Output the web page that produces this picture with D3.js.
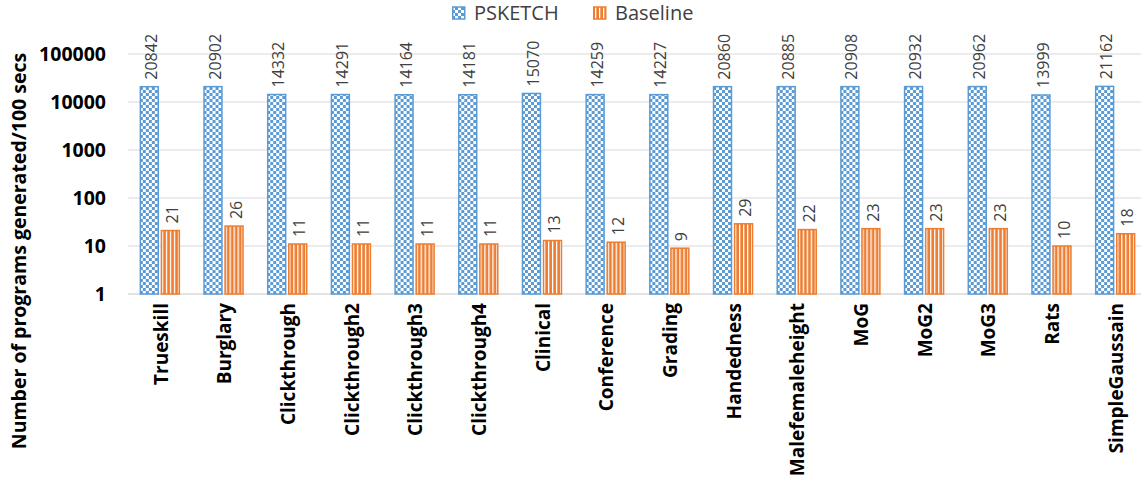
<!DOCTYPE html>
<html>
<head>
<meta charset="utf-8">
<script src="https://cdn.jsdelivr.net/npm/d3@7"></script>
<style>
  body { margin: 0; background: #fff; }
  svg { font-family: "Open Sans", sans-serif; }
</style>
</head>
<body>
<div id="vis"></div>
<script>
// Benchmarks and throughput values
var categories = ['Trueskill', 'Burglary', 'Clickthrough', 'Clickthrough2', 'Clickthrough3', 'Clickthrough4',
    'Clinical', 'Conference', 'Grading', 'Handedness', 'Malefemaleheight', 'MoG', 'MoG2', 'MoG3', 'Rats', 'SimpleGaussain'];
var psketch = [20842, 20902, 14332, 14291, 14164, 14181, 15070, 14259, 14227, 20860, 20885, 20908, 20932, 20962, 13999, 21162];
var baseline = [21, 26, 11, 11, 11, 11, 13, 12, 9, 29, 22, 23, 23, 23, 10, 18];
var seriesNames = ['PSKETCH', 'Baseline'];
var yTicks = [1, 10, 100, 1000, 10000, 100000];

var W = 1148, H = 490;
var margin = { left: 128, right: 1, top: 54, bottom: 196 };
var width = W - margin.left - margin.right;
var height = H - margin.top - margin.bottom;

var blue = '#5B9BD5', orange = '#ED7D31';

var svg = d3.select('#vis').append('svg').attr('width', W).attr('height', H);

// Patterns for the bars
var defs = svg.append('defs');
var checker = defs.append('pattern').attr('id', 'checker')
    .attr('patternUnits', 'userSpaceOnUse').attr('width', 6).attr('height', 6);
checker.append('rect').attr('width', 6).attr('height', 6).attr('fill', blue);
checker.append('rect').attr('x', 0).attr('y', 0).attr('width', 3).attr('height', 3).attr('fill', '#fff');
checker.append('rect').attr('x', 3).attr('y', 3).attr('width', 3).attr('height', 3).attr('fill', '#fff');

var stripes = defs.append('pattern').attr('id', 'stripes')
    .attr('patternUnits', 'userSpaceOnUse').attr('width', 4).attr('height', 4);
stripes.append('rect').attr('width', 4).attr('height', 4).attr('fill', orange);
stripes.append('rect').attr('x', 2).attr('width', 1.3).attr('height', 4).attr('fill', '#fff');

var g = svg.append('g').attr('transform', 'translate(' + margin.left + ',' + margin.top + ')');

// Scales
var xScale = d3.scaleBand().domain(categories).range([0, width]);
var xInner = d3.scaleBand().domain(seriesNames).range([0, 40]).paddingInner(0.1);
var yScale = d3.scaleLog().domain([1, 100000]).range([height, 0]);

// Gridlines
g.append('g').selectAll('line').data(yTicks).enter().append('line')
    .attr('x1', 0).attr('x2', width - 6)
    .attr('y1', function(d) { return yScale(d); })
    .attr('y2', function(d) { return yScale(d); })
    .attr('stroke', '#d9d9d9').attr('stroke-width', 1);

// Y axis
var yAxis = d3.axisLeft(yScale).tickValues(yTicks).tickFormat(d3.format('d')).tickSize(0).tickPadding(22);
var yG = g.append('g').call(yAxis);
yG.select('.domain').remove();
yG.selectAll('text').attr('font-size', 19.5).attr('font-weight', 'bold').attr('fill', '#000')
    .attr('font-family', '"Open Sans", sans-serif');

// X axis
var xAxis = d3.axisBottom(xScale).tickSize(0).tickPadding(0);
var xG = g.append('g').attr('transform', 'translate(0,' + height + ')').call(xAxis);
xG.select('.domain').attr('stroke', '#d9d9d9').attr('d', 'M0,0H' + (width - 6));
xG.selectAll('text')
    .attr('font-size', 19).attr('font-weight', 'bold').attr('fill', '#000')
    .attr('font-family', '"Open Sans", sans-serif')
    .style('text-anchor', 'end')
    .attr('dy', '0.35em')
    .attr('transform', 'translate(1,9) rotate(-90)');

// Bars
var groups = g.selectAll('.grp').data(categories).enter().append('g')
    .attr('transform', function(d) { return 'translate(' + (xScale(d) + xScale.bandwidth() / 2 - 20) + ',0)'; });

var rows = function(i) {
    return [{ s: 'PSKETCH', v: psketch[i] }, { s: 'Baseline', v: baseline[i] }];
};

groups.selectAll('rect').data(function(d, i) { return rows(i); }).enter().append('rect')
    .attr('x', function(d) { return xInner(d.s) + 0.5; })
    .attr('y', function(d) { return yScale(d.v); })
    .attr('width', xInner.bandwidth() - 1)
    .attr('height', function(d) { return height - yScale(d.v); })
    .attr('fill', function(d) { return d.s === 'PSKETCH' ? 'url(#checker)' : 'url(#stripes)'; })
    .attr('stroke', function(d) { return d.s === 'PSKETCH' ? blue : orange; })
    .attr('stroke-width', 1.5);

// Value labels
groups.selectAll('text').data(function(d, i) { return rows(i); }).enter().append('text')
    .attr('transform', function(d) {
        return 'translate(' + (xInner(d.s) + xInner.bandwidth() / 2 + 2) + ',' + (yScale(d.v) - 7) + ') rotate(-90)';
    })
    .attr('dy', '0.35em')
    .attr('font-size', 16).attr('fill', '#404040')
    .text(function(d) { return d.v; });

// Y axis title
svg.append('text')
    .attr('transform', 'translate(19,' + 251 + ') rotate(-90)')
    .attr('text-anchor', 'middle').attr('dy', '0.35em')
    .attr('font-size', 19.5).attr('font-weight', 'bold').attr('fill', '#000')
    .text('Number of programs generated/100 secs');

// Legend
var legend = svg.append('g').attr('transform', 'translate(452,13)');
var items = legend.selectAll('g').data(seriesNames).enter().append('g')
    .attr('transform', function(d, i) { return 'translate(' + (i * 141) + ',0)'; });
items.append('rect').attr('x', 0.75).attr('y', -6).attr('width', 12).attr('height', 12)
    .attr('fill', function(d, i) { return i === 0 ? 'url(#checker)' : 'url(#stripes)'; })
    .attr('stroke', function(d, i) { return i === 0 ? blue : orange; }).attr('stroke-width', 1.5);
items.append('text').attr('x', 22).attr('dy', '0.35em')
    .attr('font-size', 20).attr('fill', '#404040')
    .text(function(d) { return d; });
</script>
</body>
</html>
